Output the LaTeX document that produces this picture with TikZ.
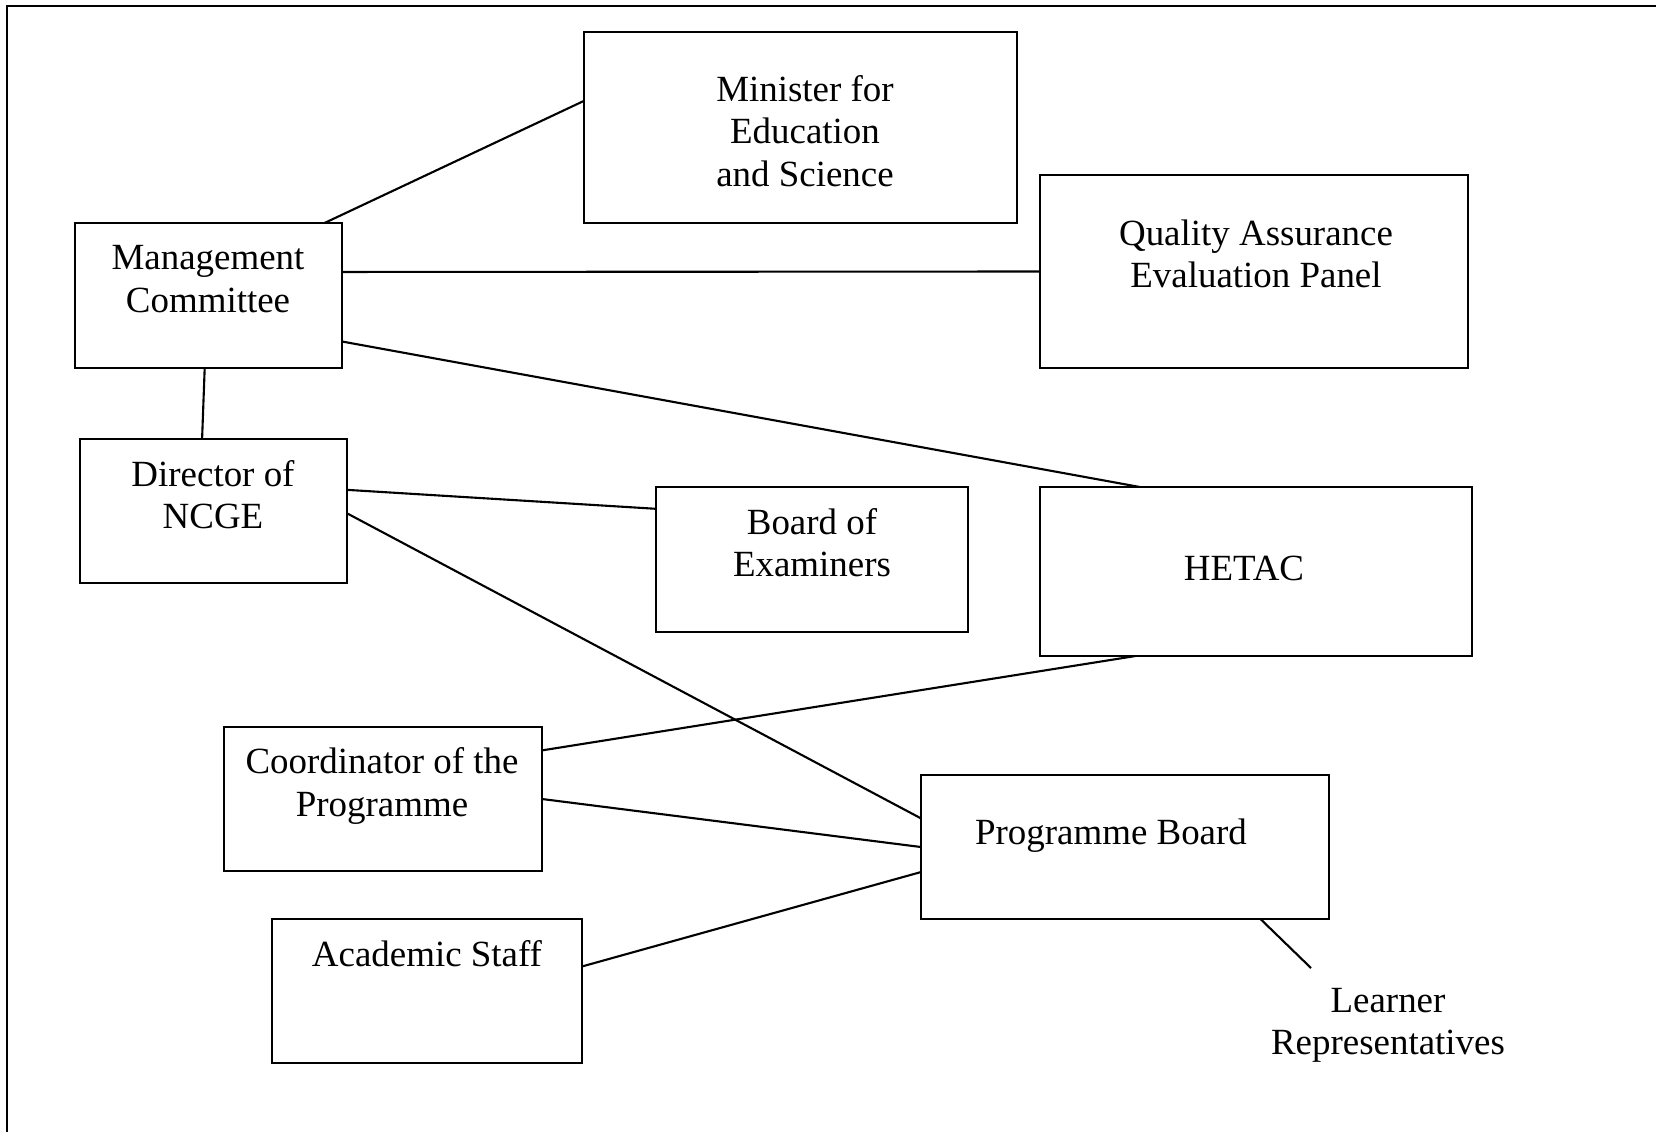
\documentclass[tikz,border=0pt]{standalone}
\usepackage{fontspec}
\setmainfont{Liberation Serif}

\begin{document}
\begin{tikzpicture}[x=0.01cm, y=-0.01cm,
    box/.style={draw, line width=0.6pt, inner sep=0pt, outer sep=0pt},
    txt/.style={align=center, inner sep=0pt, font=\fontsize{10.5}{12}\selectfont},
    link/.style={line width=0.6pt}]
    \useasboundingbox (0,0) rectangle (1656,1132);

    % outer frame (cut at right and bottom)
    \draw[link] (7,1132) -- (7,6) -- (1656,6);

    % boxes
    \node[box, minimum width=4.33cm, minimum height=1.91cm] (minister) at (800.5,127.5) {};
    \node[txt] (minister-t) at (805,131) {Minister for\\Education\\and Science};

    \node[box, minimum width=4.28cm, minimum height=1.93cm] (qa) at (1254,271.5) {};
    \node[txt] (qa-t) at (1256,254) {Quality Assurance\\Evaluation Panel};

    \node[box, minimum width=2.67cm, minimum height=1.45cm] (mgmt) at (208.5,295.5) {};
    \node[txt] (mgmt-t) at (208,279) {Management\\Committee};

    \node[box, minimum width=2.67cm, minimum height=1.44cm] (dir) at (213.5,511) {};
    \node[txt] (dir-t) at (213,495) {Director of\\NCGE};

    \node[box, minimum width=3.12cm, minimum height=1.45cm] (board) at (812,559.5) {};
    \node[txt] (board-t) at (812,543) {Board of\\Examiners};

    \node[box, minimum width=4.32cm, minimum height=1.69cm] (hetac) at (1256,571.5) {};
    \node[txt] (hetac-t) at (1244,568) {HETAC};

    \node[box, minimum width=3.18cm, minimum height=1.44cm] (coord) at (383,799) {};
    \node[txt] (coord-t) at (382,786) {Coordinator of the\\Programme};

    \node[box, minimum width=4.08cm, minimum height=1.44cm] (pb) at (1125,847) {};
    \node[txt] (pb-t) at (1111,836) {Programme Board};

    \node[box, minimum width=3.10cm, minimum height=1.44cm] (acad) at (427,991) {};
    \node[txt] (acad-t) at (427,954) {Academic Staff};

    \node[txt] (learner) at (1388,1025) {Learner\\Representatives};
    \coordinate (learner-end) at (1311,968);

    % connectors
    \draw[link] (mgmt.32.6) -- (minister.173.5);
    \draw[link] (mgmt.10.4) -- (qa.west);
    \draw[link] (mgmt.-19.2) -- (hetac.144.6);
    \draw[link] (mgmt.267.2) -- (dir.99.8);
    \draw[link] (dir.9.8) -- (board.162.4);
    \draw[link] (dir.-1.3) -- (pb.172.7);
    \draw[link] (coord.17.1) -- (hetac.215.4);
    \draw[link] (coord.east) -- (pb.west);
    \draw[link] (acad.9.9) -- (pb.187);
    \draw[link] (pb.-28.8) -- (learner-end);
\end{tikzpicture}
\end{document}
